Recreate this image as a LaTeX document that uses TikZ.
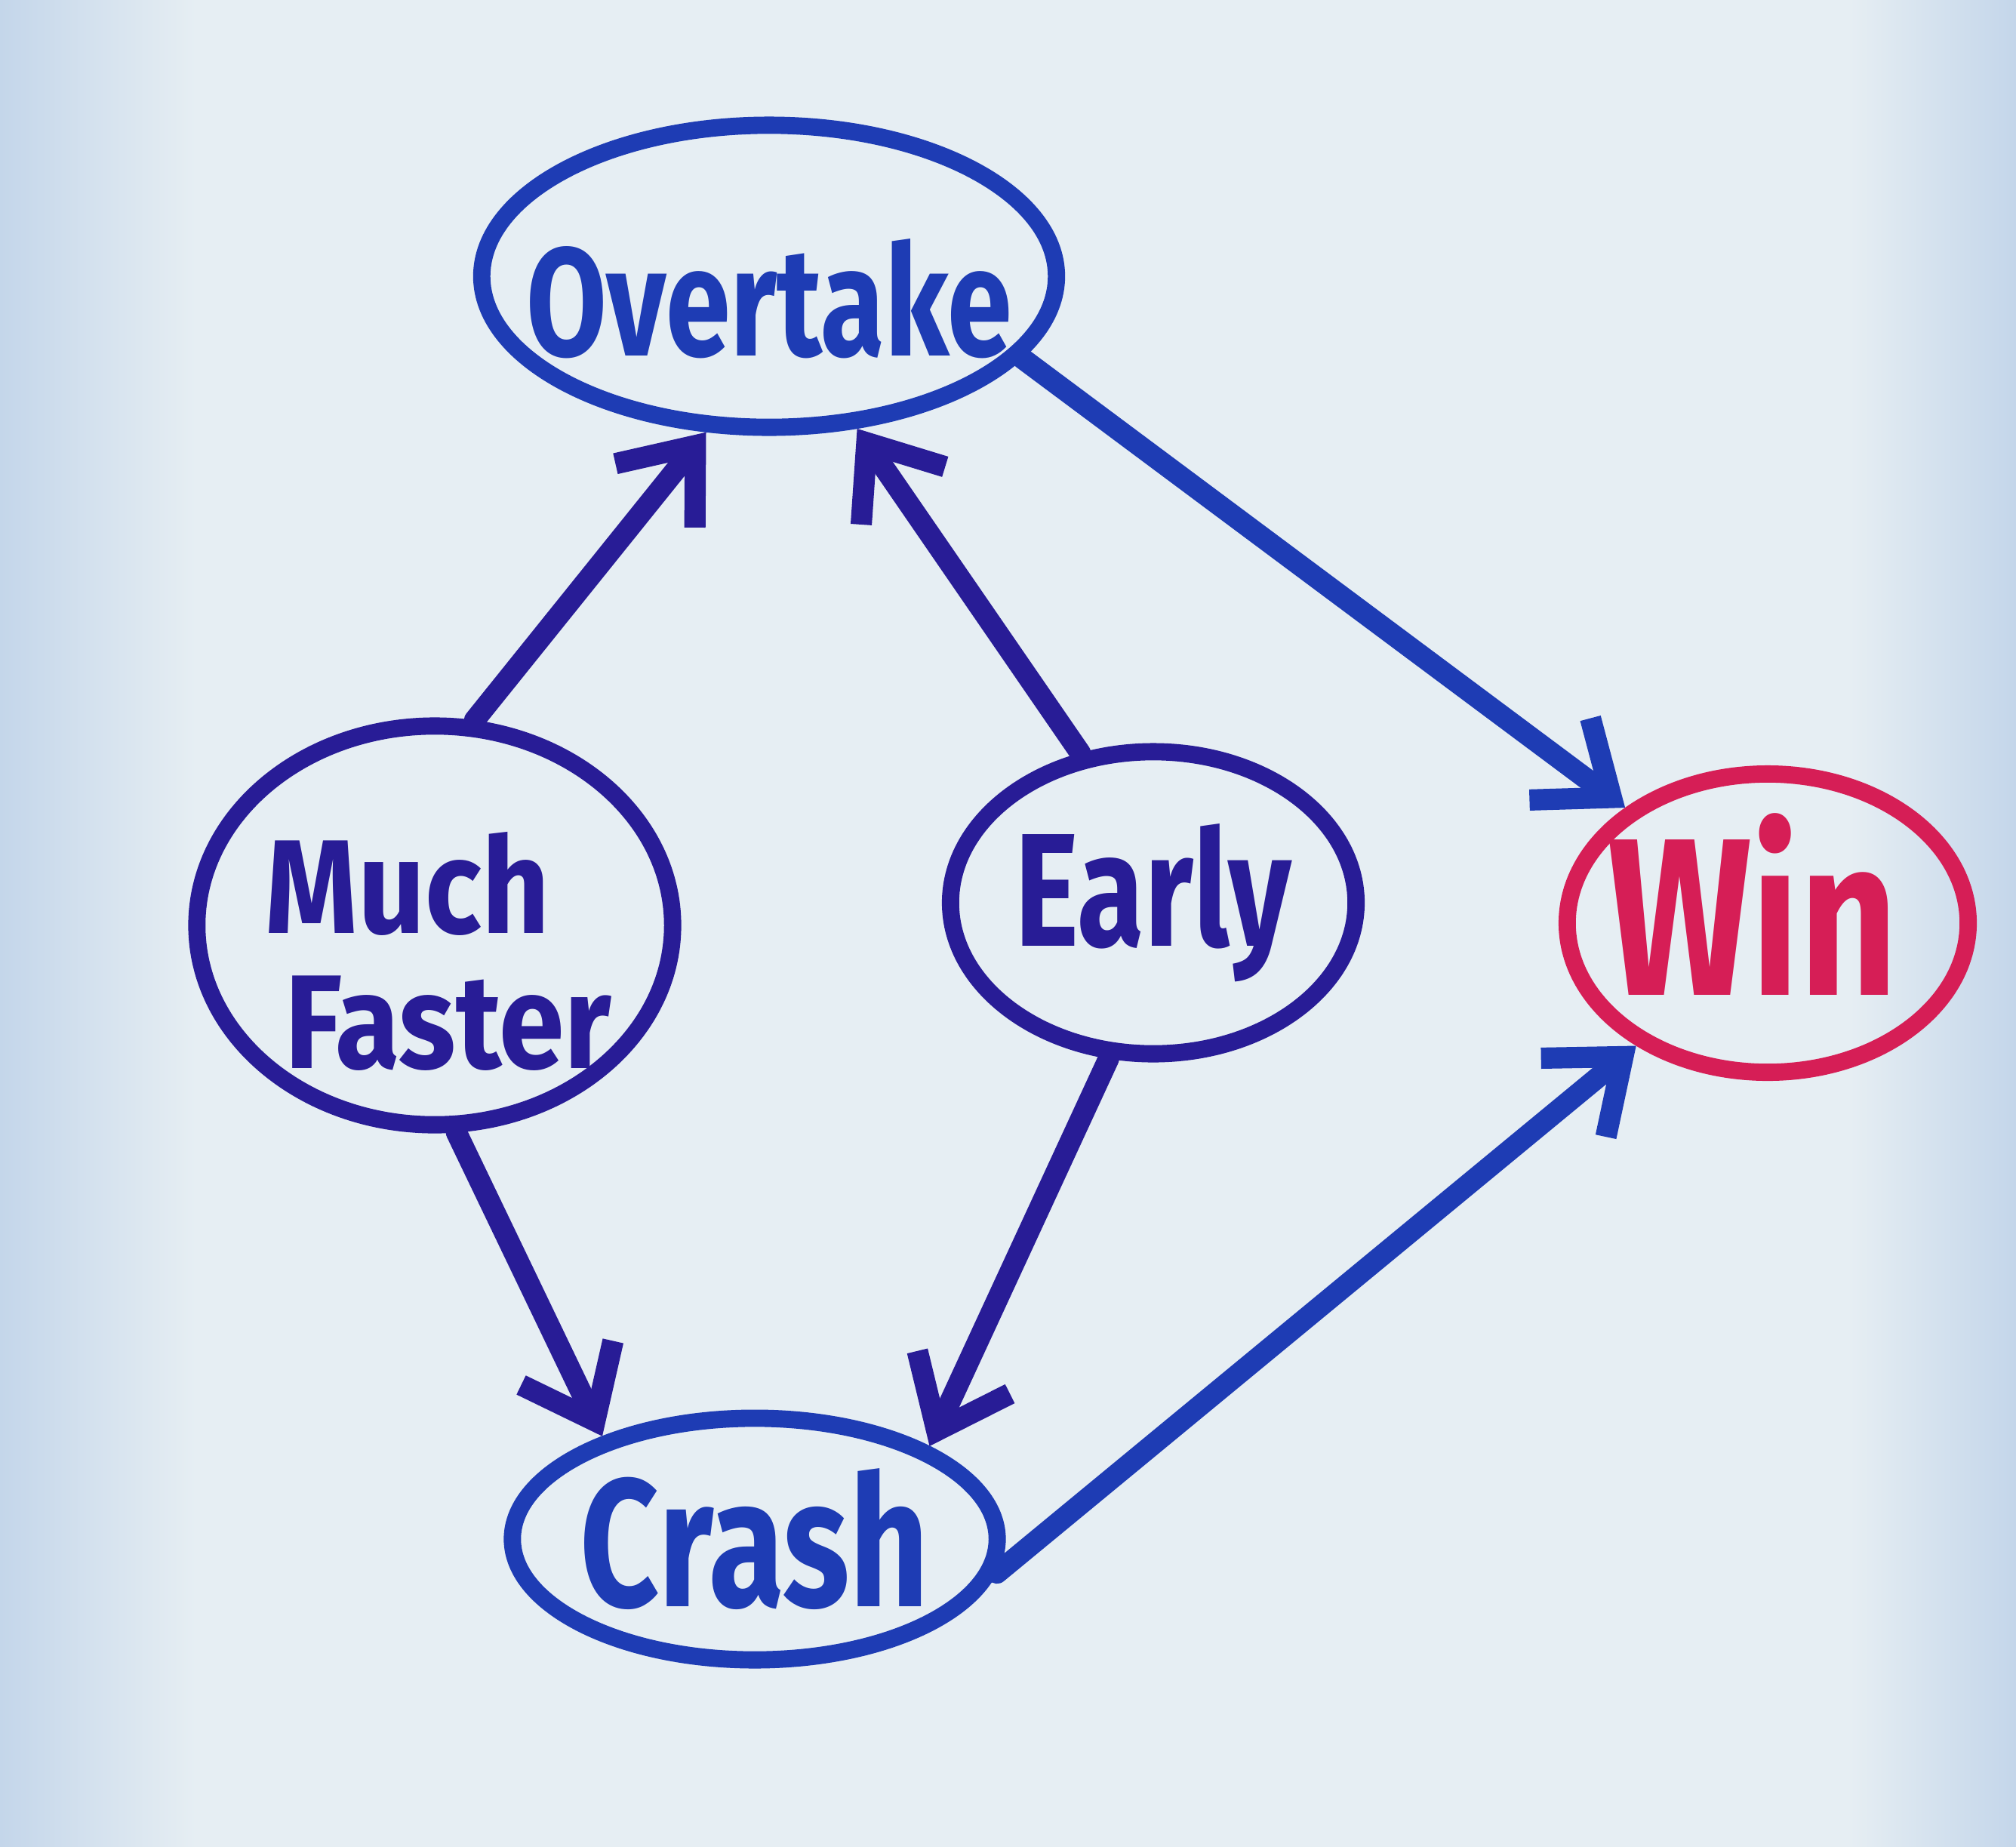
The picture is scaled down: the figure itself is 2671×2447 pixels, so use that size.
\documentclass[tikz,border=0pt]{standalone}
\usepackage{fontspec}
\setmainfont{Fira Sans}
\usetikzlibrary{shapes.geometric,arrows.meta}
\definecolor{board}{RGB}{230,238,243}
\definecolor{boardblue}{RGB}{196,214,234}
\definecolor{inkblue}{RGB}{30,60,180}
\definecolor{inknavy}{RGB}{40,28,150}
\definecolor{inkpink}{RGB}{214,30,86}
\newcommand{\hwtext}[2]{\scalebox{1}[1.32]{\fontsize{#1}{#1}\selectfont\bfseries #2}}
\newcommand{\hwwide}[2]{\scalebox{1.2}[1.36]{\fontsize{#1}{#1}\selectfont\bfseries #2}}
\tikzset{
  bubble/.style={ellipse, draw=inkblue, line width=6.5pt, inner sep=0pt},
  arrowline/.style={draw=inknavy, line width=8pt, line cap=round,
    -{Straight Barb[length=0.85cm,width=1.35cm,line width=8pt]}},
  txt/.style={inner sep=0pt},
}
\begin{document}
\begin{tikzpicture}[x=0.01cm,y=-0.01cm]
\useasboundingbox (0,0) rectangle (2671,2447);
\fill[board] (0,0) rectangle (2671,2447);
\fill[left color=boardblue, right color=board] (0,0) rectangle (260,2447);
\fill[left color=board, right color=boardblue] (2450,0) rectangle (2671,2447);

\node[bubble, minimum width=7.61cm, minimum height=4.0cm,
  label={[txt,text=inkblue,yshift=-0.3cm]center:\hwtext{44pt}{Overtake}}] (ov) at (1019,366) {};
\node[bubble, draw=inknavy, minimum width=6.3cm, minimum height=5.28cm,
  label={[txt,text=inknavy,xshift=-0.36cm,yshift=0.55cm]center:\hwwide{37pt}{Much}},
  label={[txt,text=inknavy,xshift=0.18cm,yshift=-1.3cm]center:\hwwide{37pt}{Faster}}] (mf) at (576,1226) {};
\node[bubble, draw=inknavy, minimum width=5.37cm, minimum height=4.0cm,
  label={[txt,text=inknavy]center:\hwtext{46pt}{Early}}] (ea) at (1528,1196) {};
\node[bubble, draw=inkpink, minimum width=5.31cm, minimum height=3.95cm,
  label={[txt,text=inkpink,yshift=0.25cm,xshift=-0.2cm]center:\hwtext{64pt}{Win}}] (win) at (2342,1223) {};
\node[bubble, minimum width=6.42cm, minimum height=3.2cm,
  label={[txt,text=inkblue]center:\hwtext{52pt}{Crash}}] (cr) at (1000,2039) {};

\draw[arrowline] (mf.79) -- (ov.248);
\draw[arrowline] (ea.116) -- (ov.300);
\draw[arrowline, draw=inkblue] (ov.342) -- (win.141);
\draw[arrowline] (mf.276) -- (cr.146);
\draw[arrowline] (ea.254) -- (cr.28);
\draw[arrowline, draw=inkblue] (cr.352) -- (win.223);
\end{tikzpicture}
\end{document}
